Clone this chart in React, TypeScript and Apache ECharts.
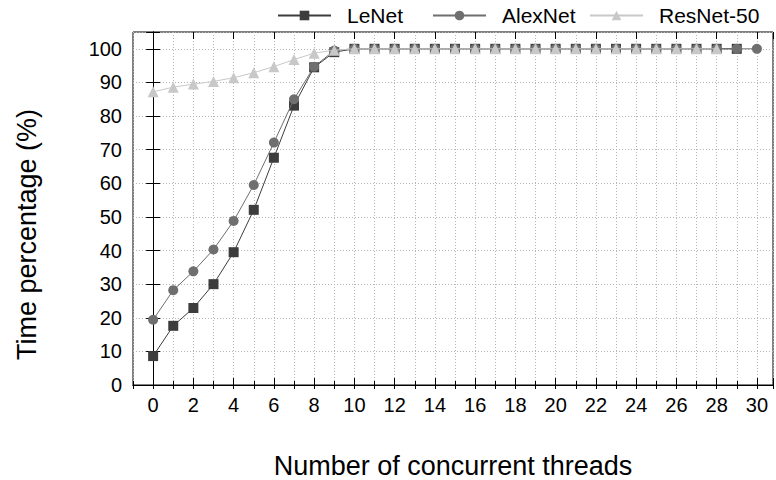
import React, { useEffect, useRef } from "react";
import * as echarts from "echarts";

// Number of concurrent threads (x positions)
const threadCounts = [
  0, 1, 2, 3, 4, 5, 6, 7, 8, 9, 10, 11, 12, 13, 14, 15, 16, 17, 18, 19, 20,
  21, 22, 23, 24, 25, 26, 27, 28, 29, 30,
];

// Time percentage (%) per model
const lenetValues = [
  8.6, 17.6, 22.9, 30.0, 39.5, 52.1, 67.6, 83.1, 94.5, 99.0, 100, 100, 100,
  100, 100, 100, 100, 100, 100, 100, 100, 100, 100, 100, 100, 100, 100, 100,
  100, 100,
];
const alexnetValues = [
  19.4, 28.2, 33.8, 40.3, 48.8, 59.5, 72.1, 85.0, 94.7, 99.5, 100, 100, 100,
  100, 100, 100, 100, 100, 100, 100, 100, 100, 100, 100, 100, 100, 100, 100,
  100, 100, 100,
];
const resnetValues = [
  87.2, 88.6, 89.5, 90.3, 91.4, 92.9, 94.7, 96.8, 98.7, 99.6, 100, 100, 100,
  100, 100, 100, 100, 100, 100, 100, 100, 100, 100, 100, 100, 100, 100, 100,
  100,
];

const seriesNames = ["LeNet", "AlexNet", "ResNet-50"];
const xAxisTitle = "Number of concurrent threads";
const yAxisTitle = "Time percentage (%)";

const FONT = "'Liberation Sans', Arial, Helvetica, sans-serif";

const toPairs = (vals: number[]) => vals.map((v, i) => [threadCounts[i], v]);

export default function App() {
  const ref = useRef<HTMLDivElement>(null);

  useEffect(() => {
    if (!ref.current) return;
    const chart = echarts.init(ref.current, undefined, { renderer: "svg" });

    const gridLeft = 133;
    const gridRight = 3;
    const gridTop = 32;
    const gridBottom = 95;
    const xMin = -1;
    const xMax = 30.8;
    const plotWidth = 776 - gridLeft - gridRight;
    const unit = plotWidth / (xMax - xMin);

    const dotted = { color: "#b4b4b4", width: 1, type: [1, 2] as number[] };

    const legendBase = {
      top: 5,
      padding: 0,
      itemWidth: 53,
      itemHeight: 12,
      selectedMode: false,
      textStyle: {
        fontSize: 21,
        color: "#000",
        fontFamily: FONT,
        padding: [0, 0, 0, 11],
      },
    };

    chart.setOption({
      animation: false,
      backgroundColor: "#fff",
      textStyle: { fontFamily: FONT },
      legend: [
        { ...legendBase, left: 277, data: [seriesNames[0]] },
        { ...legendBase, left: 432, data: [seriesNames[1]] },
        { ...legendBase, left: 589, data: [seriesNames[2]] },
      ],
      grid: [
        {
          left: gridLeft,
          right: gridRight,
          top: gridTop,
          bottom: gridBottom,
          outerBoundsMode: "none",
          show: true,
          borderColor: "#000",
          borderWidth: 1,
        },
        // second grid starts at x = 0 so the long ticks fall on even numbers
        {
          left: gridLeft + unit,
          right: gridRight,
          top: gridTop,
          bottom: gridBottom,
          outerBoundsMode: "none",
        },
      ],
      xAxis: [
        {
          gridIndex: 0,
          type: "value",
          position: "bottom",
          min: xMin,
          max: xMax,
          interval: 1,
          name: xAxisTitle,
          nameLocation: "middle",
          nameGap: 67,
          nameTextStyle: { fontSize: 27, color: "#000", fontFamily: FONT },
          axisLine: { show: true, lineStyle: { color: "#000", width: 1 } },
          axisTick: {
            show: true,
            inside: true,
            length: 4,
            lineStyle: { color: "#000", width: 1 },
          },
          axisLabel: {
            fontSize: 20,
            color: "#000",
            margin: 10,
            fontFamily: FONT,
            formatter: (v: number) =>
              Number.isInteger(v) && v >= 0 && v % 2 === 0 ? String(v) : "",
          },
          splitLine: { show: true, lineStyle: dotted },
        },
        {
          gridIndex: 0,
          type: "value",
          position: "top",
          min: xMin,
          max: xMax,
          interval: 1,
          axisLine: { show: true, lineStyle: { color: "#000", width: 1 } },
          axisTick: {
            show: true,
            inside: true,
            length: 4,
            lineStyle: { color: "#000", width: 1 },
          },
          axisLabel: { show: false },
          splitLine: { show: false },
        },
        {
          gridIndex: 1,
          type: "value",
          position: "bottom",
          min: 0,
          max: xMax,
          interval: 2,
          axisLine: { show: false },
          axisTick: {
            show: true,
            inside: true,
            length: 7,
            lineStyle: { color: "#000", width: 1 },
          },
          axisLabel: { show: false },
          splitLine: { show: false },
        },
        {
          gridIndex: 1,
          type: "value",
          position: "top",
          min: 0,
          max: xMax,
          interval: 2,
          axisLine: { show: false },
          axisTick: {
            show: true,
            inside: true,
            length: 7,
            lineStyle: { color: "#000", width: 1 },
          },
          axisLabel: { show: false },
          splitLine: { show: false },
        },
      ],
      yAxis: [
        {
          gridIndex: 0,
          type: "value",
          position: "left",
          min: 0,
          max: 105,
          interval: 10,
          name: yAxisTitle,
          nameLocation: "middle",
          nameGap: 93,
          nameTextStyle: {
            fontSize: 27,
            color: "#000",
            fontFamily: FONT,
            padding: [0, 52, 0, 0],
          },
          axisLine: { show: true, lineStyle: { color: "#000", width: 1 } },
          axisTick: {
            show: true,
            inside: true,
            length: 7,
            lineStyle: { color: "#000", width: 1 },
          },
          axisLabel: {
            fontSize: 20,
            color: "#000",
            margin: 11,
            fontFamily: FONT,
            formatter: (v: number) => (v <= 100 ? String(v) : ""),
          },
          splitLine: { show: true, lineStyle: dotted },
        },
        {
          gridIndex: 0,
          type: "value",
          position: "right",
          min: 0,
          max: 105,
          interval: 10,
          axisLine: { show: true, lineStyle: { color: "#000", width: 1 } },
          axisTick: {
            show: true,
            inside: true,
            length: 7,
            lineStyle: { color: "#000", width: 1 },
          },
          axisLabel: { show: false },
          splitLine: { show: false },
        },
        {
          gridIndex: 1,
          type: "value",
          min: 0,
          max: 105,
          show: false,
        },
      ],
      series: [
        {
          name: seriesNames[0],
          type: "line",
          xAxisIndex: 0,
          yAxisIndex: 0,
          data: toPairs(lenetValues),
          symbol: "rect",
          symbolSize: 10,
          itemStyle: { color: "#3d3d3d" },
          lineStyle: { color: "#3d3d3d", width: 1 },
          z: 3,
        },
        {
          name: seriesNames[1],
          type: "line",
          xAxisIndex: 0,
          yAxisIndex: 0,
          data: toPairs(alexnetValues),
          symbol: "circle",
          symbolSize: 10,
          itemStyle: { color: "#6f6f6f" },
          lineStyle: { color: "#6f6f6f", width: 1 },
          z: 4,
        },
        {
          name: seriesNames[2],
          type: "line",
          xAxisIndex: 0,
          yAxisIndex: 0,
          data: toPairs(resnetValues),
          symbol: "triangle",
          symbolSize: 11,
          itemStyle: { color: "#c8c8c8" },
          lineStyle: { color: "#c8c8c8", width: 1 },
          z: 5,
        },
      ],
    });

    return () => chart.dispose();
  }, []);

  return (
    <div
      ref={ref}
      style={{ position: "absolute", left: 0, top: 0, width: 776, height: 480 }}
    />
  );
}
